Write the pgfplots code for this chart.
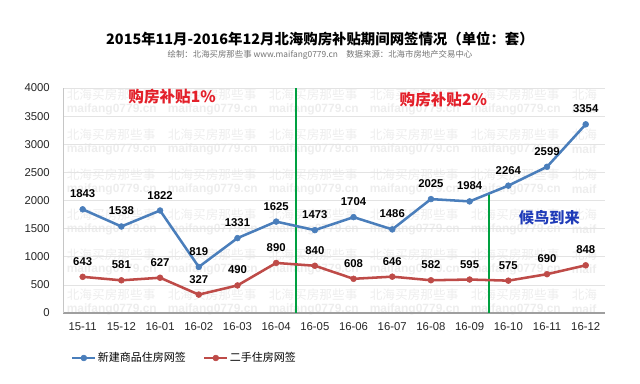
\documentclass[border=0pt]{standalone}
\usepackage{fontspec}
\setmainfont{Liberation Sans}
\newfontfamily\cjk{Noto Sans CJK SC}
\usepackage{pgfplots}
\pgfplotsset{compat=1.18}
\definecolor{sblue}{HTML}{4A7EBB}
\definecolor{sred}{HTML}{BE4B48}
\definecolor{sgreen}{HTML}{00A040}
\definecolor{wm}{HTML}{EDEDED}
\definecolor{annred}{HTML}{E3202A}
\definecolor{annblue}{HTML}{1F3BB8}
\begin{document}
\begin{tikzpicture}
\path[use as bounding box] (0,0) rectangle (480pt,-288pt);
% watermark
\begin{scope}[x=0.75pt,y=-0.75pt]
\foreach \r in {95,135,175,215,255,295}{
 \foreach \c in {66.5,167.5,268.5,369.5,470.5}{
  \node[anchor=west,inner sep=0,text=wm,font=\cjk\fontsize{9.5}{10}\selectfont] at (\c,\r) {北海买房那些事};
  \node[anchor=west,inner sep=0,text=wm,font=\bfseries\fontsize{9}{10}\selectfont] at (\c,\r+14) {maifang0779.cn};
 }
  \node[anchor=west,inner sep=0,text=wm,font=\cjk\fontsize{9.5}{10}\selectfont] at (571.5,\r) {北海};
  \node[anchor=west,inner sep=0,text=wm,font=\bfseries\fontsize{9}{10}\selectfont] at (571.5,\r+14) {maif};
 }
\end{scope}
\node[font=\cjk\bfseries\fontsize{10.8}{12}\selectfont] at (240pt,-29pt) {2015年11月-2016年12月北海购房补贴期间网签情况（单位：套）};
\node[font=\cjk\fontsize{6.3}{7}\selectfont, text=black!55] at (240pt,-41.25pt) {绘制：北海买房那些事 www.maifang0779.cn\quad 数据来源：北海市房地产交易中心};
\begin{axis}[
  at={(47.5pt,-234.75pt)}, anchor=south west,
  scale only axis, width=406.3pt, height=168.75pt,
  xmin=-0.5, xmax=13.5, ymin=0, ymax=4000,
  ytick={0,500,...,4000},
  xtick={0,...,13},
  xticklabels={15-11,15-12,16-01,16-02,16-03,16-04,16-05,16-06,16-07,16-08,16-09,16-10,16-11,16-12},
  axis lines*=left,
  x axis line style={gray!75, line width=1pt},
  y axis line style={gray!45, line width=0.6pt},
  major tick length=0pt,
  ymajorgrids, grid style={gray!22, line width=0.5pt},
  tick label style={font=\fontsize{8.5}{10}\selectfont, text=black!85},
  /pgf/number format/assume math mode=true,
  /pgf/number format/1000 sep={},
  yticklabel style={inner sep=0pt, xshift=-10pt},
  xticklabel style={inner sep=0pt, yshift=-7.3pt},
  legend style={at={(0.014,-0.2)}, anchor=west, draw=none, fill=none,
    font=\cjk\fontsize{8.25}{10}\selectfont, inner sep=0pt, nodes={inner sep=1pt},
    /tikz/every even column/.append style={column sep=12pt}},
  legend columns=2,
  clip=false,
]
\addplot[draw=sgreen, line width=1.5pt, forget plot] coordinates {(10.5,0)(10.5,2124)};
\addplot[draw=sgreen, line width=1.5pt, forget plot] coordinates {(5.5,0)(5.5,4000)};
\addplot[sblue, line width=1.9pt, mark=*, mark size=2.2pt, mark options={line width=0.4pt, fill=sblue, draw=sblue},
  nodes near coords, every node near coord/.append style={font=\bfseries\fontsize{8.5}{10}\selectfont, text=black, yshift=5pt}]
  coordinates {(0,1843)(1,1538)(2,1822)(3,819)(4,1331)(5,1625)(6,1473)(7,1704)(8,1486)(9,2025)(10,1984)(11,2264)(12,2599)(13,3354)};
\addlegendentry{新建商品住房网签}
\addplot[sred, line width=1.9pt, mark=*, mark size=2.2pt, mark options={line width=0.4pt, fill=sred, draw=sred},
  nodes near coords, every node near coord/.append style={font=\bfseries\fontsize{8.5}{10}\selectfont, text=black, yshift=5pt}]
  coordinates {(0,643)(1,581)(2,627)(3,327)(4,490)(5,890)(6,840)(7,608)(8,646)(9,582)(10,595)(11,575)(12,690)(13,848)};
\addlegendentry{二手住房网签}
\node[font=\cjk\bfseries\fontsize{11.7}{12}\selectfont, text=annred] at (axis cs:2.31,3840) {购房补贴1\%};
\node[font=\cjk\bfseries\fontsize{11.7}{12}\selectfont, text=annred] at (axis cs:9.32,3787) {购房补贴2\%};
\node[font=\cjk\bfseries\fontsize{11.4}{12}\selectfont, text=annblue] at (axis cs:12.06,1689) {候鸟到来};
\end{axis}
\end{tikzpicture}
\end{document}
